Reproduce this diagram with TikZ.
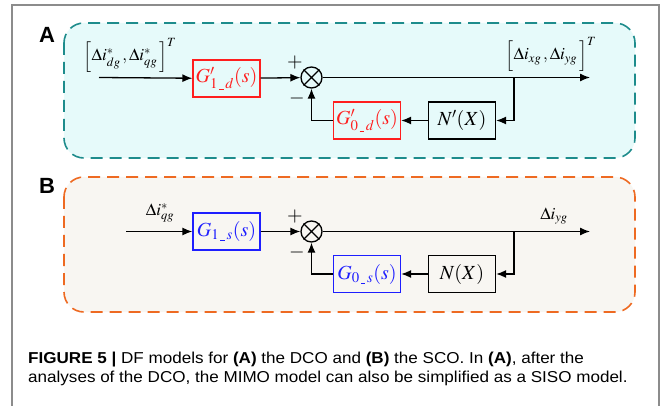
\documentclass[tikz,border=0pt]{standalone}
\usepackage{mathptmx}
\usepackage[no-math]{fontspec}
\newfontfamily\capfont{Liberation Sans}
\newfontfamily\captxtfont[FakeStretch=1.08]{Liberation Sans}
\usetikzlibrary{arrows.meta}
\definecolor{tealc}{HTML}{1E8C8C}
\definecolor{cyanfill}{HTML}{E6FAFA}
\definecolor{orangec}{HTML}{EE6A22}
\definecolor{beigefill}{HTML}{F8F6F2}
\definecolor{redc}{HTML}{FF1E1E}
\definecolor{bluec}{HTML}{1E1EFF}
\definecolor{framegray}{HTML}{8C8C8C}
\newcommand{\usc}{\,\rule[-1.2pt]{4.5pt}{0.7pt}\,}
\begin{document}
\begin{tikzpicture}[x=1pt,y=-1pt,
  arr/.style={line width=1.3pt,-{Latex[length=10pt,width=8pt]}},
  blk/.style={draw,line width=1.3pt,minimum width=67pt,minimum height=37pt,inner sep=0pt,font=\fontsize{20}{24}\selectfont},
  redbox/.style={blk,draw=redc,text=redc},
  bluebox/.style={blk,draw=bluec,text=bluec},
  sumnode/.style={draw,circle,line width=1.3pt,minimum size=21pt,inner sep=0pt},
  panellab/.style={font=\capfont\bfseries\fontsize{22}{22}\selectfont,inner sep=0pt},
  sig/.style={font=\fontsize{17}{20}\selectfont,inner sep=0pt},
  pm/.style={font=\fontsize{20}{20}\selectfont,inner sep=0pt},
  capt/.style={font=\captxtfont\fontsize{15.8}{19}\selectfont,inner sep=0pt,anchor=base west}
]
\useasboundingbox (0,0) rectangle (664,406);
\fill[white] (0,0) rectangle (664,406);
\draw[framegray,line width=1.2pt] (12,406) -- (12,5) -- (659,5) -- (659,406);

% Panel A
\draw[tealc,fill=cyanfill,line width=1.6pt,dash pattern=on 12pt off 7pt,rounded corners=20pt] (64,23) rectangle (635,158);
\node[panellab] (labA) at (47,35) {A};
\node[redbox] (g1a) at (226.5,78.5) {$G'_{1\usc d}(s)$};
\node[sumnode] (sa) at (311.5,77.5) {};
\draw[line width=1.3pt] (sa.north east) -- (sa.south west) (sa.north west) -- (sa.south east);
\node[blk] (na) at (462,120.5) {$N'(X)$};
\node[redbox] (g0a) at (367,120.5) {$G'_{0\usc d}(s)$};
\coordinate (ina) at (99,77.5);
\coordinate (outa) at (590,77.5);
\coordinate (bra) at (514,77.5);
\node[sig] (inlabA) at (130,55) {$\Bigl[\Delta i^{*}_{dg}\,,\Delta i^{*}_{qg}\,\Bigr]^{T}$};
\node[sig] (outlabA) at (551,54) {$\Bigl[\Delta i_{xg}\,,\Delta i_{yg}\,\Bigr]^{T}$};
\node[pm] (pa) at (295,63) {$+$};
\node[pm] (ma) at (297,99) {$-$};
\draw[arr] (ina) -- (g1a);
\draw[arr] (g1a) -- (sa);
\draw[arr] (sa) -- (outa);
\draw[arr] (bra) |- (na);
\draw[arr] (na) -- (g0a);
\draw[arr] (g0a.west) -| (sa.south);

% Panel B
\draw[orangec,fill=beigefill,line width=1.6pt,dash pattern=on 12pt off 7pt,rounded corners=20pt] (64,177) rectangle (635,312);
\node[panellab] (labB) at (47,186) {B};
\node[bluebox] (g1b) at (226.5,231.5) {$G_{1\usc s}(s)$};
\node[sumnode] (sb) at (311.5,231.5) {};
\draw[line width=1.3pt] (sb.north east) -- (sb.south west) (sb.north west) -- (sb.south east);
\node[blk] (nb) at (462,274) {$N(X)$};
\node[bluebox] (g0b) at (367,274) {$G_{0\usc s}(s)$};
\coordinate (inb) at (126,231.5);
\coordinate (outb) at (590,231.5);
\coordinate (brb) at (514,231.5);
\node[sig] (inlabB) at (160,213) {$\Delta i^{*}_{qg}$};
\node[sig] (outlabB) at (554,216) {$\Delta i_{yg}$};
\node[pm] (pb) at (295,217) {$+$};
\node[pm] (mb) at (297,253) {$-$};
\draw[arr] (inb) -- (g1b);
\draw[arr] (g1b) -- (sb);
\draw[arr] (sb) -- (outb);
\draw[arr] (brb) |- (nb);
\draw[arr] (nb) -- (g0b);
\draw[arr] (g0b.west) -| (sb.south);

% Caption
\node[capt] (cap1) at (28,363) {\textbf{FIGURE 5 |} DF models for \textbf{(A)} the DCO and \textbf{(B)} the SCO. In \textbf{(A)}, after the};
\node[capt] (cap2) at (28,382.5) {analyses of the DCO, the MIMO model can also be simplified as a SISO model.};
\end{tikzpicture}
\end{document}
